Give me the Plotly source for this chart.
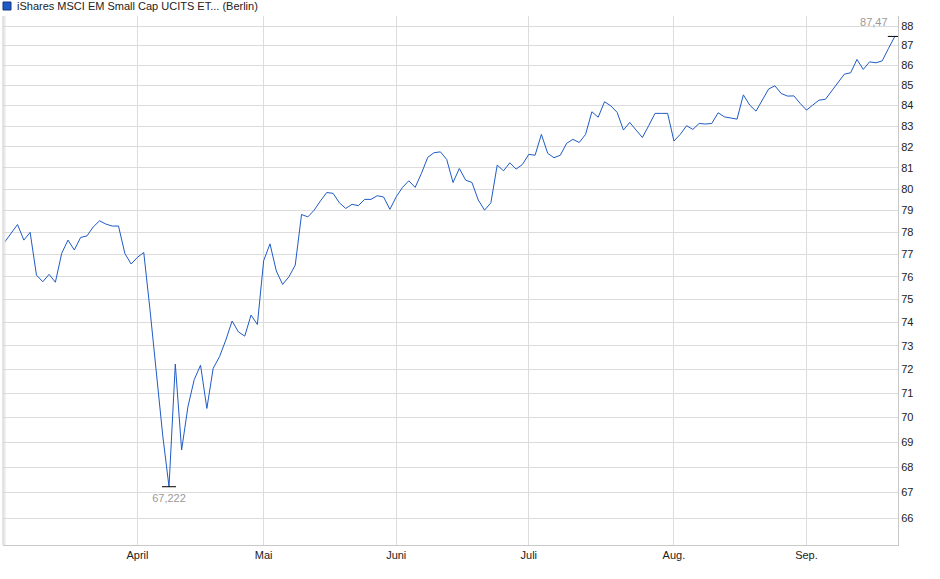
import math
import pandas as pd
import plotly.graph_objects as go

# ---- data -------------------------------------------------------------
holidays = ["2025-04-18", "2025-04-21", "2025-05-01"]
dates = [d.strftime("%Y-%m-%d") for d in pd.bdate_range("2025-03-03", "2025-09-19")
         if d.strftime("%Y-%m-%d") not in holidays]

values = [
    77.57, 77.95, 78.36, 77.65, 78.00, 76.08, 75.78, 76.11, 75.76, 77.05,
    77.65, 77.20, 77.77, 77.84, 78.25, 78.53, 78.38, 78.29, 78.29, 77.05,
    76.57, 76.87, 77.09, 74.53, 71.89, 69.28, 67.222, 72.22, 68.68, 70.44,
    71.57, 72.17, 70.37, 72.04, 72.53, 73.24, 74.06, 73.59, 73.41, 74.32,
    73.91, 76.72, 77.48, 76.26, 75.66, 76.00, 76.52, 78.82, 78.71, 79.02,
    79.45, 79.84, 79.80, 79.36, 79.10, 79.29, 79.23, 79.52, 79.52, 79.69,
    79.63, 79.06, 79.64, 80.08, 80.39, 80.08, 80.74, 81.50, 81.72, 81.76,
    81.40, 80.31, 80.97, 80.42, 80.31, 79.49, 79.02, 79.36, 81.13, 80.86,
    81.24, 80.94, 81.16, 81.64, 81.60, 82.60, 81.69, 81.48, 81.60, 82.17,
    82.36, 82.21, 82.60, 83.70, 83.43, 84.19, 83.99, 83.67, 82.81, 83.18,
    82.81, 82.45, 83.02, 83.62, 83.62, 83.62, 82.28, 82.60, 83.02, 82.84,
    83.13, 83.10, 83.13, 83.65, 83.45, 83.41, 83.34, 84.53, 84.03, 83.73,
    84.27, 84.82, 84.98, 84.60, 84.47, 84.48, 84.11, 83.78, 84.03, 84.27,
    84.31, 84.72, 85.18, 85.56, 85.63, 86.30, 85.80, 86.18, 86.13, 86.23,
    86.86, 87.47,
]

month_ticks = ["2025-04-01", "2025-05-02", "2025-06-02", "2025-07-01", "2025-08-01", "2025-09-01"]
month_labels = ["April", "Mai", "Juni", "Juli", "Aug.", "Sep."]
y_ticks = list(range(66, 89))

title_text = "iShares MSCI EM Small Cap UCITS ET... (Berlin)"
min_label = "67,222"
max_label = "87,47"

# ---- figure -----------------------------------------------------------
LINE = "#1f5bc6"
GRID = "#dcdcdc"
FONT = "Arial, Liberation Sans, sans-serif"

i_min = values.index(min(values))
i_max = len(values) - 1

fig = go.Figure()
fig.add_trace(go.Scatter(x=dates, y=values, mode="lines",
                         line=dict(color=LINE, width=1), hoverinfo="skip"))
fig.add_trace(go.Scatter(x=[dates[i_min]], y=[values[i_min]], mode="markers+text",
                         marker=dict(symbol="line-ew", size=10, line=dict(color="#000", width=1)),
                         text=[min_label], textposition="bottom center",
                         textfont=dict(family=FONT, size=11, color="#9a9a9a"),
                         hoverinfo="skip"))
fig.add_trace(go.Scatter(x=[dates[i_max]], y=[values[i_max]], mode="markers+text",
                         marker=dict(symbol="line-ew", size=10, line=dict(color="#000", width=1)),
                         text=[max_label], textposition="top left",
                         textfont=dict(family=FONT, size=11, color="#9a9a9a"),
                         hoverinfo="skip"))

fig.update_layout(
    width=940, height=579,
    margin=dict(l=3, r=42, t=16, b=34),
    paper_bgcolor="white", plot_bgcolor="white",
    showlegend=False,
    hovermode=False,
    font=dict(family=FONT, size=11, color="#222"),
    xaxis=dict(type="category", range=[-0.3, len(dates) - 0.5],
               tickmode="array", tickvals=month_ticks, ticktext=month_labels,
               showgrid=True, gridcolor=GRID, gridwidth=1,
               showline=True, linecolor="#c8c8c8", linewidth=1,
               ticks="", zeroline=False, fixedrange=True,
               tickfont=dict(family=FONT, size=11, color="#222")),
    yaxis=dict(type="log", side="right",
               range=[math.log10(64.97), math.log10(88.52)],
               tickmode="array", tickvals=y_ticks, ticktext=[str(v) for v in y_ticks],
               showgrid=True, gridcolor=GRID, gridwidth=1,
               showline=True, linecolor="#c8c8c8", linewidth=1,
               ticks="", zeroline=False, fixedrange=True,
               tickfont=dict(family=FONT, size=11, color="#222")),
    shapes=[
        dict(type="line", xref="paper", yref="paper", x0=0, x1=0, y0=0, y1=1,
             line=dict(color="#c8c8c8", width=1)),
        dict(type="line", xref="x", yref="paper", x0=0, x1=0, y0=0, y1=1,
             line=dict(color=GRID, width=1)),
        dict(type="rect", xref="paper", yref="paper", xsizemode="pixel", ysizemode="pixel",
             xanchor=0, yanchor=1, x0=0, x1=8, y0=6, y1=14,
             fillcolor=LINE, line=dict(color="#17357a", width=1)),
    ],
    annotations=[
        dict(text=title_text, xref="paper", yref="paper", x=12 / 895, y=1 + 10 / 529,
             xanchor="left", yanchor="middle", showarrow=False,
             font=dict(family=FONT, size=11, color="#222")),
    ],
)

fig.write_html("out.html", config={"displayModeBar": False, "staticPlot": True},
               post_script="document.body.style.margin='0';")
